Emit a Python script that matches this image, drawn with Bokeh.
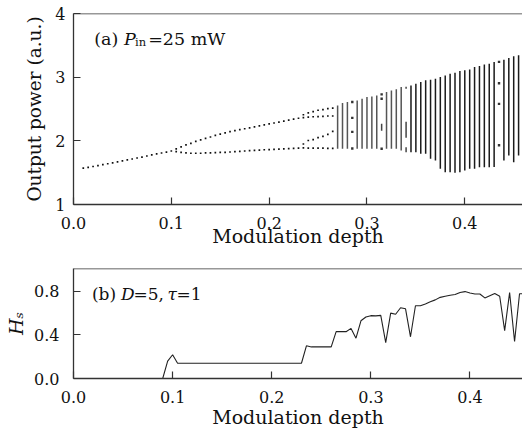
from bokeh.plotting import figure
from bokeh.layouts import column
from bokeh.models import Label, Range1d, FixedTicker, Span
from bokeh.embed import file_html
from bokeh.resources import INLINE

FONT = "DejaVu Serif"

# ---------------- data: panel (a) bifurcation diagram ----------------
# period-1 branch
p1_x = [0.010, 0.015, 0.020, 0.025, 0.030, 0.035, 0.040, 0.045, 0.050, 0.055,
        0.060, 0.065, 0.070, 0.075, 0.080, 0.085, 0.090, 0.095, 0.100]
p1_y = [1.570, 1.583, 1.597, 1.611, 1.625, 1.640, 1.655, 1.670, 1.685, 1.700,
        1.715, 1.730, 1.745, 1.762, 1.778, 1.794, 1.809, 1.824, 1.840]

# period-2 branches
p2_x = [0.105, 0.110, 0.115, 0.120, 0.125, 0.130, 0.135, 0.140, 0.145, 0.150,
        0.155, 0.160, 0.165, 0.170, 0.175, 0.180, 0.185, 0.190, 0.195, 0.200,
        0.205, 0.210, 0.215, 0.220, 0.225, 0.230]
p2_upper = [1.875, 1.905, 1.935, 1.960, 1.990, 2.015, 2.040, 2.060, 2.085, 2.105,
            2.125, 2.145, 2.160, 2.175, 2.190, 2.205, 2.220, 2.235, 2.250, 2.265,
            2.280, 2.295, 2.310, 2.325, 2.340, 2.355]
p2_lower = [1.830, 1.820, 1.810, 1.805, 1.805, 1.805, 1.810, 1.810, 1.815, 1.818,
            1.820, 1.825, 1.830, 1.835, 1.840, 1.845, 1.850, 1.855, 1.860, 1.862,
            1.866, 1.870, 1.874, 1.878, 1.882, 1.886]

# period-4 branches
p4_x = [0.235, 0.240, 0.245, 0.250, 0.255, 0.260, 0.265]
p4_a = [2.410, 2.440, 2.460, 2.480, 2.490, 2.505, 2.515]
p4_b = [2.365, 2.372, 2.378, 2.380, 2.385, 2.390, 2.390]
p4_c = [1.950, 2.005, 2.020, 2.050, 2.070, 2.100, 2.150]
p4_d = [1.890, 1.886, 1.885, 1.885, 1.884, 1.883, 1.880]

# chaotic bands: vertical extent at each modulation depth
bar_x = [0.270, 0.275, 0.280, 0.290, 0.295, 0.300, 0.305, 0.310, 0.320, 0.325,
         0.330, 0.335, 0.345, 0.350, 0.355, 0.360, 0.365, 0.370, 0.375, 0.380,
         0.385, 0.390, 0.395, 0.400, 0.405, 0.410, 0.415, 0.420, 0.425, 0.430,
         0.440, 0.445, 0.450, 0.455]
bar_lo = [1.876, 1.876, 1.876, 1.876, 1.876, 1.876, 1.876, 1.876, 1.876, 1.876,
          1.876, 1.850, 1.822, 1.822, 1.797, 1.797, 1.718, 1.692, 1.561, 1.508,
          1.508, 1.497, 1.508, 1.535, 1.561, 1.561, 1.587, 1.587, 1.587, 1.590,
          1.690, 1.770, 1.665, 1.770]
bar_hi = [2.556, 2.593, 2.609, 2.635, 2.660, 2.687, 2.698, 2.714, 2.766, 2.790,
          2.810, 2.844, 2.871, 2.898, 2.923, 2.950, 2.960, 2.976, 3.002, 3.028,
          3.055, 3.070, 3.096, 3.107, 3.120, 3.160, 3.175, 3.200, 3.210, 3.240,
          3.275, 3.300, 3.327, 3.343]

# periodic windows inside the chaotic region
win_x = [0.285, 0.285, 0.285, 0.285, 0.315, 0.315, 0.315, 0.435, 0.435, 0.435, 0.435]
win_y = [2.610, 2.360, 2.140, 1.880, 2.730, 2.660, 1.876, 3.240, 2.905, 2.580, 1.930]
wseg_x = [0.315, 0.340, 0.340, 0.340]
wseg_lo = [2.160, 2.820, 2.050, 1.820]
wseg_hi = [2.270, 2.850, 2.300, 1.900]

# ---------------- data: panel (b) Hs ----------------
hs_x = [0.090, 0.095, 0.100, 0.105, 0.230, 0.235, 0.240, 0.260, 0.265, 0.275,
        0.280, 0.285, 0.290, 0.295, 0.300, 0.305, 0.310, 0.315, 0.320, 0.325,
        0.330, 0.335, 0.340, 0.345, 0.350, 0.355, 0.360, 0.365, 0.370, 0.375,
        0.380, 0.385, 0.390, 0.395, 0.400, 0.405, 0.410, 0.415, 0.420, 0.425,
        0.430, 0.435, 0.440, 0.445, 0.450, 0.455]
hs_y = [0.000, 0.160, 0.218, 0.140, 0.140, 0.300, 0.290, 0.290, 0.430, 0.430,
        0.460, 0.370, 0.530, 0.565, 0.577, 0.575, 0.580, 0.330, 0.600, 0.590,
        0.650, 0.640, 0.383, 0.668, 0.668, 0.685, 0.705, 0.722, 0.745, 0.755,
        0.765, 0.772, 0.790, 0.798, 0.785, 0.776, 0.776, 0.740, 0.760, 0.780,
        0.755, 0.440, 0.790, 0.340, 0.778, 0.778]

# ---------------- ticks ----------------
x_ticks = [0.0, 0.1, 0.2, 0.3, 0.4]
x_tick_labels = ["0.0", "0.1", "0.2", "0.3", "0.4"]
ya_ticks = [1, 2, 3, 4]
ya_tick_labels = ["1", "2", "3", "4"]
yb_ticks = [0.0, 0.4, 0.8]
yb_tick_labels = ["0.0", "0.4", "0.8"]

AX = "#333333"


def style_axes(p, xstand, ystand):
    for ax in (p.xaxis[0], p.yaxis[0]):
        ax.axis_line_color = AX
        ax.axis_line_width = 1.3
        ax.major_tick_line_color = AX
        ax.major_tick_line_width = 1.2
        ax.major_tick_in = 7
        ax.major_tick_out = 0
        ax.minor_tick_line_color = None
        ax.major_label_text_font = FONT
        ax.major_label_text_font_size = "16px"
        ax.major_label_text_color = "#111111"
        ax.axis_label_text_font = FONT
        ax.axis_label_text_font_size = "19px"
        ax.axis_label_text_font_style = "normal"
        ax.axis_label_text_color = "#111111"
    p.xaxis[0].major_label_standoff = xstand
    p.yaxis[0].major_label_standoff = ystand
    p.xgrid.grid_line_color = None
    p.ygrid.grid_line_color = None
    p.outline_line_color = None
    p.background_fill_color = "white"
    p.border_fill_color = "white"


# ---------------- panel (a) ----------------
pa = figure(width=522, height=254, output_backend="svg", toolbar_location=None,
            x_range=Range1d(0, 0.459), y_range=Range1d(1, 4),
            min_border_left=73, min_border_right=0, min_border_top=13, min_border_bottom=50)
style_axes(pa, 12, 8)
pa.xaxis[0].ticker = FixedTicker(ticks=x_ticks)
pa.xaxis[0].major_label_overrides = dict(zip(x_ticks, x_tick_labels))
pa.yaxis[0].ticker = FixedTicker(ticks=ya_ticks)
pa.yaxis[0].major_label_overrides = dict(zip(ya_ticks, ya_tick_labels))
pa.xaxis[0].axis_label = "Modulation depth"
pa.xaxis[0].axis_label_standoff = -7
pa.yaxis[0].axis_label = "Output power (a.u.)"
pa.yaxis[0].axis_label_text_font_size = "18.5px"
pa.yaxis[0].axis_label_standoff = 7
pa.add_layout(Span(location=4, dimension="width", line_color=AX, line_width=1.3))

DOT = dict(marker="square", size=1.7, color="#111111", line_width=0)
pa.scatter(p1_x, p1_y, **DOT)
pa.scatter(p2_x, p2_upper, **DOT)
pa.scatter(p2_x, p2_lower, **DOT)
for row in (p4_a, p4_b, p4_c, p4_d):
    pa.scatter(p4_x, row, **DOT)
# the sparser bands near the onset of chaos look lighter than the dense ones
n_light = 12
pa.segment(x0=bar_x[:n_light], y0=bar_lo[:n_light], x1=bar_x[:n_light], y1=bar_hi[:n_light],
           line_width=1.5, line_color="#555555")
pa.segment(x0=bar_x[n_light:], y0=bar_lo[n_light:], x1=bar_x[n_light:], y1=bar_hi[n_light:],
           line_width=1.5, line_color="#1a1a1a")
pa.segment(x0=wseg_x, y0=wseg_lo, x1=wseg_x, y1=wseg_hi, line_width=1.5, line_color="#444444")
pa.scatter(win_x, win_y, marker="square", size=2.4, color="#333333", line_width=0)

TXT = dict(x_units="screen", y_units="screen", text_font=FONT, text_font_size="17.5px",
           text_color="#111111", text_baseline="alphabetic")
pa.add_layout(Label(x=20.7, y=166, text="(a)", **TXT))
pa.add_layout(Label(x=50.5, y=166, text="P", text_font_style="italic", **TXT))
pa.add_layout(Label(x=61.5, y=163, text="in", x_units="screen", y_units="screen", text_font=FONT,
                    text_font_size="11.5px", text_color="#111111", text_baseline="alphabetic"))
pa.add_layout(Label(x=74.7, y=166, text="=25 mW", **TXT))

# ---------------- panel (b) ----------------
pb = figure(width=522, height=176, output_backend="svg", toolbar_location=None,
            x_range=Range1d(0, 0.453), y_range=Range1d(0, 1.01),
            min_border_left=73, min_border_right=0, min_border_top=14, min_border_bottom=52)
style_axes(pb, 12, 14)
pb.xaxis[0].ticker = FixedTicker(ticks=x_ticks)
pb.xaxis[0].major_label_overrides = dict(zip(x_ticks, x_tick_labels))
pb.yaxis[0].ticker = FixedTicker(ticks=yb_ticks)
pb.yaxis[0].major_label_overrides = dict(zip(yb_ticks, yb_tick_labels))
pb.xaxis[0].axis_label = "Modulation depth"
pb.xaxis[0].axis_label_standoff = 0
pb.yaxis[0].axis_label = "H\u209b"
pb.yaxis[0].axis_label_text_font_style = "italic"
pb.yaxis[0].axis_label_text_font_size = "19px"
pb.yaxis[0].axis_label_standoff = 4
pb.add_layout(Span(location=1.01, dimension="width", line_color=AX, line_width=1.3))

pb.line(hs_x, hs_y, line_width=1.1, line_color="#222222")

TXTB = dict(TXT, text_font_size="17px")
pb.add_layout(Label(x=18.4, y=84.4, text="(b)", **TXTB))
pb.add_layout(Label(x=47.4, y=84.4, text="D", text_font_style="italic", **TXTB))
pb.add_layout(Label(x=60, y=84.4, text="=5,", **TXTB))
pb.add_layout(Label(x=94, y=84.4, text="τ", text_font_style="italic", **TXTB))
pb.add_layout(Label(x=103, y=84.4, text="=1", **TXTB))

layout = column(pa, pb, spacing=0)
open("out.html", "w").write(file_html(layout, INLINE))
